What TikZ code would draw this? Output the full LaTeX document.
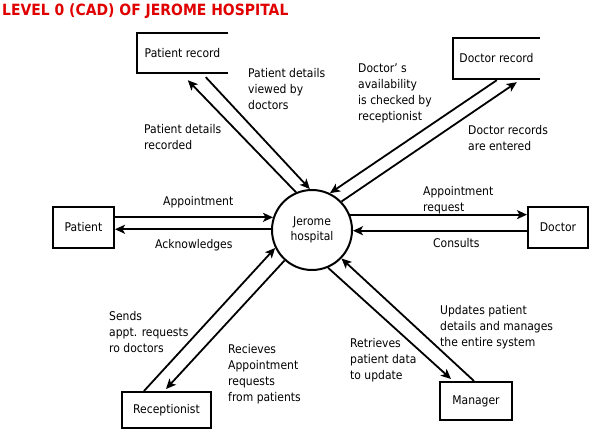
\documentclass[tikz,border=0pt]{standalone}
\usepackage{fontspec}
\setmainfont{DejaVu Sans}[FakeStretch=0.9]
\usetikzlibrary{arrows.meta,calc}
\definecolor{titlered}{RGB}{225,0,0}
\begin{document}
\begin{tikzpicture}[x=1pt,y=-1pt,
  every node/.style={inner sep=0pt},
  entity/.style={draw,line width=2pt,font=\fontsize{12}{13}\selectfont},
  store/.style={font=\fontsize{12}{13}\selectfont},
  lbl/.style={anchor=north west,align=left,font=\fontsize{12}{16}\selectfont},
  flow/.style={line width=1.8pt,-{Stealth[length=10pt,width=9pt,inset=2.5pt]}}]
\useasboundingbox (0,0) rectangle (590,433);
\fill[white] (0,0) rectangle (590,433);
% title
\node[anchor=base west,text=titlered,font=\bfseries\fontsize{15.5}{16}\selectfont] (title) at (2,16) {LEVEL 0 (CAD) OF JEROME HOSPITAL};
% process
\node[draw,circle,line width=2pt,minimum size=80pt,align=center,font=\fontsize{12}{15}\selectfont] (hosp) at (312,230) {Jerome\\hospital};
% entities
\node[entity,minimum width=61pt,minimum height=41pt] (pat) at (83.5,227.5) {Patient};
\node[entity,minimum width=60pt,minimum height=41pt] (doc) at (558,227.5) {Doctor};
\node[entity,minimum width=89pt,minimum height=36pt] (rec) at (166.5,410) {Receptionist};
\node[entity,minimum width=72pt,minimum height=38pt] (man) at (476,401) {Manager};
% data stores (open right side)
\node[store,minimum width=91pt,minimum height=40pt] (prec) at (182.5,53) {Patient record};
\draw[line width=2pt] (prec.north east) -- (prec.north west) -- (prec.south west) -- (prec.south east);
\node[store,minimum width=87pt,minimum height=41pt] (drec) at (496.5,58.5) {Doctor record};
\draw[line width=2pt] (drec.north east) -- (drec.north west) -- (drec.south west) -- (drec.south east);
% flows
\draw[flow] (hosp.113) -- ($(prec.south west)+(51,7)$);
\draw[flow] ($(prec.south west)+(69,4)$) -- (hosp.93);
\draw[flow] ($(drec.south west)+(44,1)$) -- (hosp.64);
\draw[flow] (hosp.44) -- ($(drec.south west)+(64,3)$);
\draw[flow] (pat.east |- hosp.162) -- (hosp.162);
\draw[flow] (hosp.179) -- (pat.east |- hosp.179);
\draw[flow] (hosp.22) -- (doc.west |- hosp.22);
\draw[flow] (doc.west |- hosp.359) -- (hosp.359);
\draw[flow] ($(rec.north west)+(23,0)$) -- (hosp.206);
\draw[flow] (hosp.228) -- ($(rec.north west)+(45,-2)$);
\draw[flow] (hosp.293) -- ($(man.north west)+(12,-2)$);
\draw[flow] ($(man.north west)+(35,0)$) -- (hosp.316);
% labels (y = top of first line)
\node[lbl] (l1) at (248,68) {Patient details\\viewed by\\doctors};
\node[lbl] (l2) at (144,124) {Patient details\\recorded};
\node[lbl] (l3) at (358,64) {Doctor' s\\availability\\is checked by\\receptionist};
\node[lbl] (l4) at (468,125) {Doctor records\\are entered};
\node[lbl] (l5) at (163,196) {Appointment};
\node[lbl] (l6) at (155,239) {Acknowledges};
\node[lbl] (l7) at (423,186) {Appointment\\request};
\node[lbl] (l8) at (433,238) {Consults};
\node[lbl] (l9) at (109,311) {Sends\\appt. requests\\ro doctors};
\node[lbl] (l10) at (228,344) {Recieves\\Appointment\\requests\\from patients};
\node[lbl] (l11) at (350,338) {Retrieves\\patient data\\to update};
\node[lbl] (l12) at (440,305) {Updates patient\\details and manages\\the entire system};
\end{tikzpicture}
\end{document}
